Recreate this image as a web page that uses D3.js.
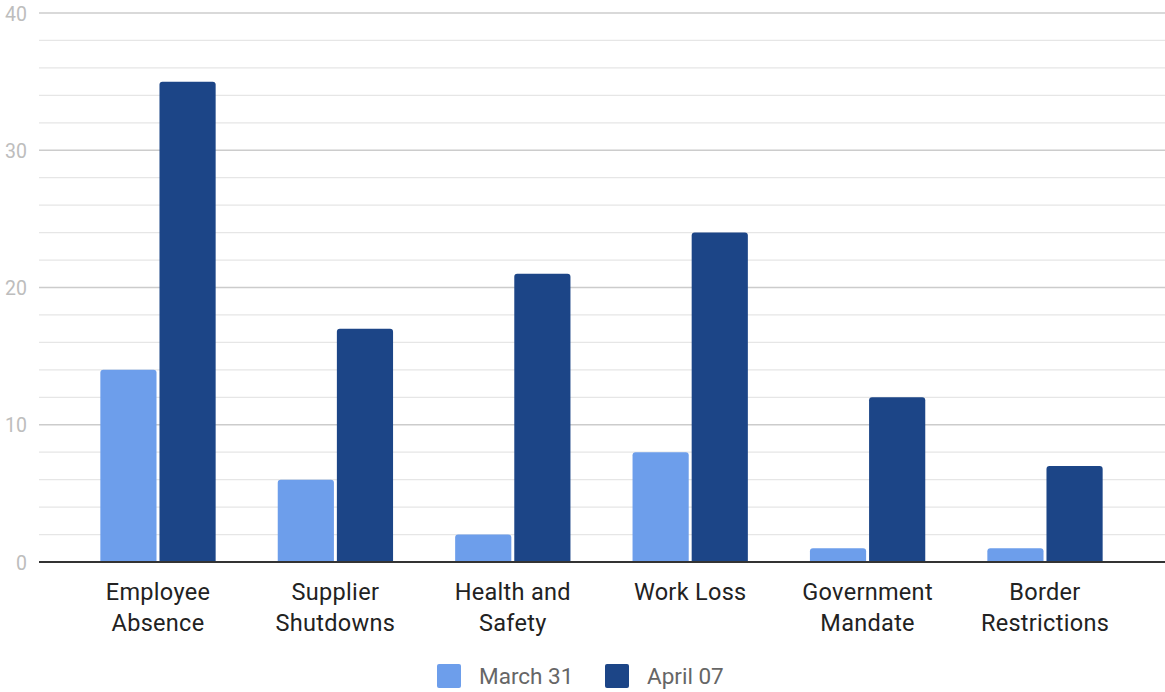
<!DOCTYPE html>
<html>
<head>
<meta charset="utf-8">
<script src="https://cdn.jsdelivr.net/npm/d3@7"></script>
<style>
  html, body { margin: 0; padding: 0; background: #fff; }
  svg { display: block; font-family: Roboto, "Noto Sans", sans-serif; }
</style>
</head>
<body>
<svg id="chart" width="1165" height="692"></svg>
<script>
// Reasons for disruption, counted on two survey dates
const categories = [
  ["Employee", "Absence"],
  ["Supplier", "Shutdowns"],
  ["Health and", "Safety"],
  ["Work Loss"],
  ["Government", "Mandate"],
  ["Border", "Restrictions"]
];
const seriesNames = ["March 31", "April 07"];
const march31 = [14, 6, 2, 8, 1, 1];
const april07 = [35, 17, 21, 24, 12, 7];
const yTicks = [0, 10, 20, 30, 40];
const colors = ["#6d9eeb", "#1c4587"];

const svg = d3.select("#chart");
const plotLeft = 39, plotRight = 1165, plotTop = 13, plotBottom = 562;

const x = d3.scaleBand()
  .domain(d3.range(categories.length))
  .range([69.3, 1133.7])
  .paddingInner(0.35)
  .paddingOuter(0.175);
const x1 = d3.scaleBand()
  .domain(d3.range(seriesNames.length))
  .range([0, x.bandwidth()])
  .paddingInner(0.05);
const y = d3.scaleLinear().domain([0, 40]).range([plotBottom, plotTop]);

// minor gridlines
svg.append("g").selectAll("line")
  .data(d3.range(0, 41, 2).filter(v => v % 10 !== 0))
  .join("line")
  .attr("x1", plotLeft).attr("x2", plotRight)
  .attr("y1", d => y(d)).attr("y2", d => y(d))
  .attr("stroke", "#e6e6e6").attr("stroke-width", 1.3);

// major gridlines
svg.append("g").selectAll("line")
  .data(yTicks.filter(v => v !== 0))
  .join("line")
  .attr("x1", plotLeft).attr("x2", plotRight)
  .attr("y1", d => y(d)).attr("y2", d => y(d))
  .attr("stroke", "#cccccc").attr("stroke-width", 1.3);

// y axis labels
const yAxis = svg.append("g")
  .attr("transform", `translate(${plotLeft - 12},0)`)
  .call(d3.axisLeft(y).tickValues(yTicks).tickSize(0).tickPadding(0));
yAxis.select(".domain").remove();
yAxis.selectAll("text")
  .attr("fill", "#bdbdbd")
  .attr("dy", "0.36em")
  .style("font-size", "19.5px")
  .style("font-family", "Roboto, sans-serif");

// rounded-top bar path
function barPath(x0, w, yTop, yBase, r) {
  const h = yBase - yTop;
  r = Math.min(r, h / 2, w / 2);
  return `M${x0},${yBase}V${yTop + r}Q${x0},${yTop} ${x0 + r},${yTop}` +
         `H${x0 + w - r}Q${x0 + w},${yTop} ${x0 + w},${yTop + r}V${yBase}Z`;
}

const seriesData = [march31, april07];
const groups = svg.append("g").selectAll("g")
  .data(categories.map((c, i) => i))
  .join("g")
  .attr("transform", i => `translate(${x(i)},0)`);

groups.selectAll("path")
  .data(i => seriesData.map((s, k) => ({ k, v: s[i] })))
  .join("path")
  .attr("d", d => barPath(x1(d.k), x1.bandwidth(), y(d.v), y(0), 3))
  .attr("fill", d => colors[d.k]);

// baseline
svg.append("line")
  .attr("x1", plotLeft).attr("x2", plotRight)
  .attr("y1", y(0)).attr("y2", y(0))
  .attr("stroke", "#333").attr("stroke-width", 2);

// category labels
const catAxis = svg.append("g").selectAll("text")
  .data(categories)
  .join("text")
  .attr("x", (d, i) => x(i) + x.bandwidth() / 2)
  .attr("y", 599.5)
  .attr("text-anchor", "middle")
  .attr("fill", "#222")
  .style("font-size", "23.5px")
  .style("letter-spacing", "0.3px");
catAxis.selectAll("tspan")
  .data(d => d)
  .join("tspan")
  .attr("x", function () { return d3.select(this.parentNode).attr("x"); })
  .attr("dy", (d, i) => i === 0 ? 0 : 31)
  .text(d => d);

// legend
const legendItems = [
  { name: seriesNames[0], color: colors[0], x: 437 },
  { name: seriesNames[1], color: colors[1], x: 605 }
];
const lg = svg.append("g").selectAll("g")
  .data(legendItems)
  .join("g")
  .attr("transform", d => `translate(${d.x},664)`);
lg.append("rect")
  .attr("width", 24).attr("height", 24).attr("rx", 2)
  .attr("fill", d => d.color);
lg.append("text")
  .attr("x", 42).attr("y", 20)
  .attr("fill", "#666")
  .style("font-size", "22.5px")
  .text(d => d.name);
</script>
</body>
</html>
